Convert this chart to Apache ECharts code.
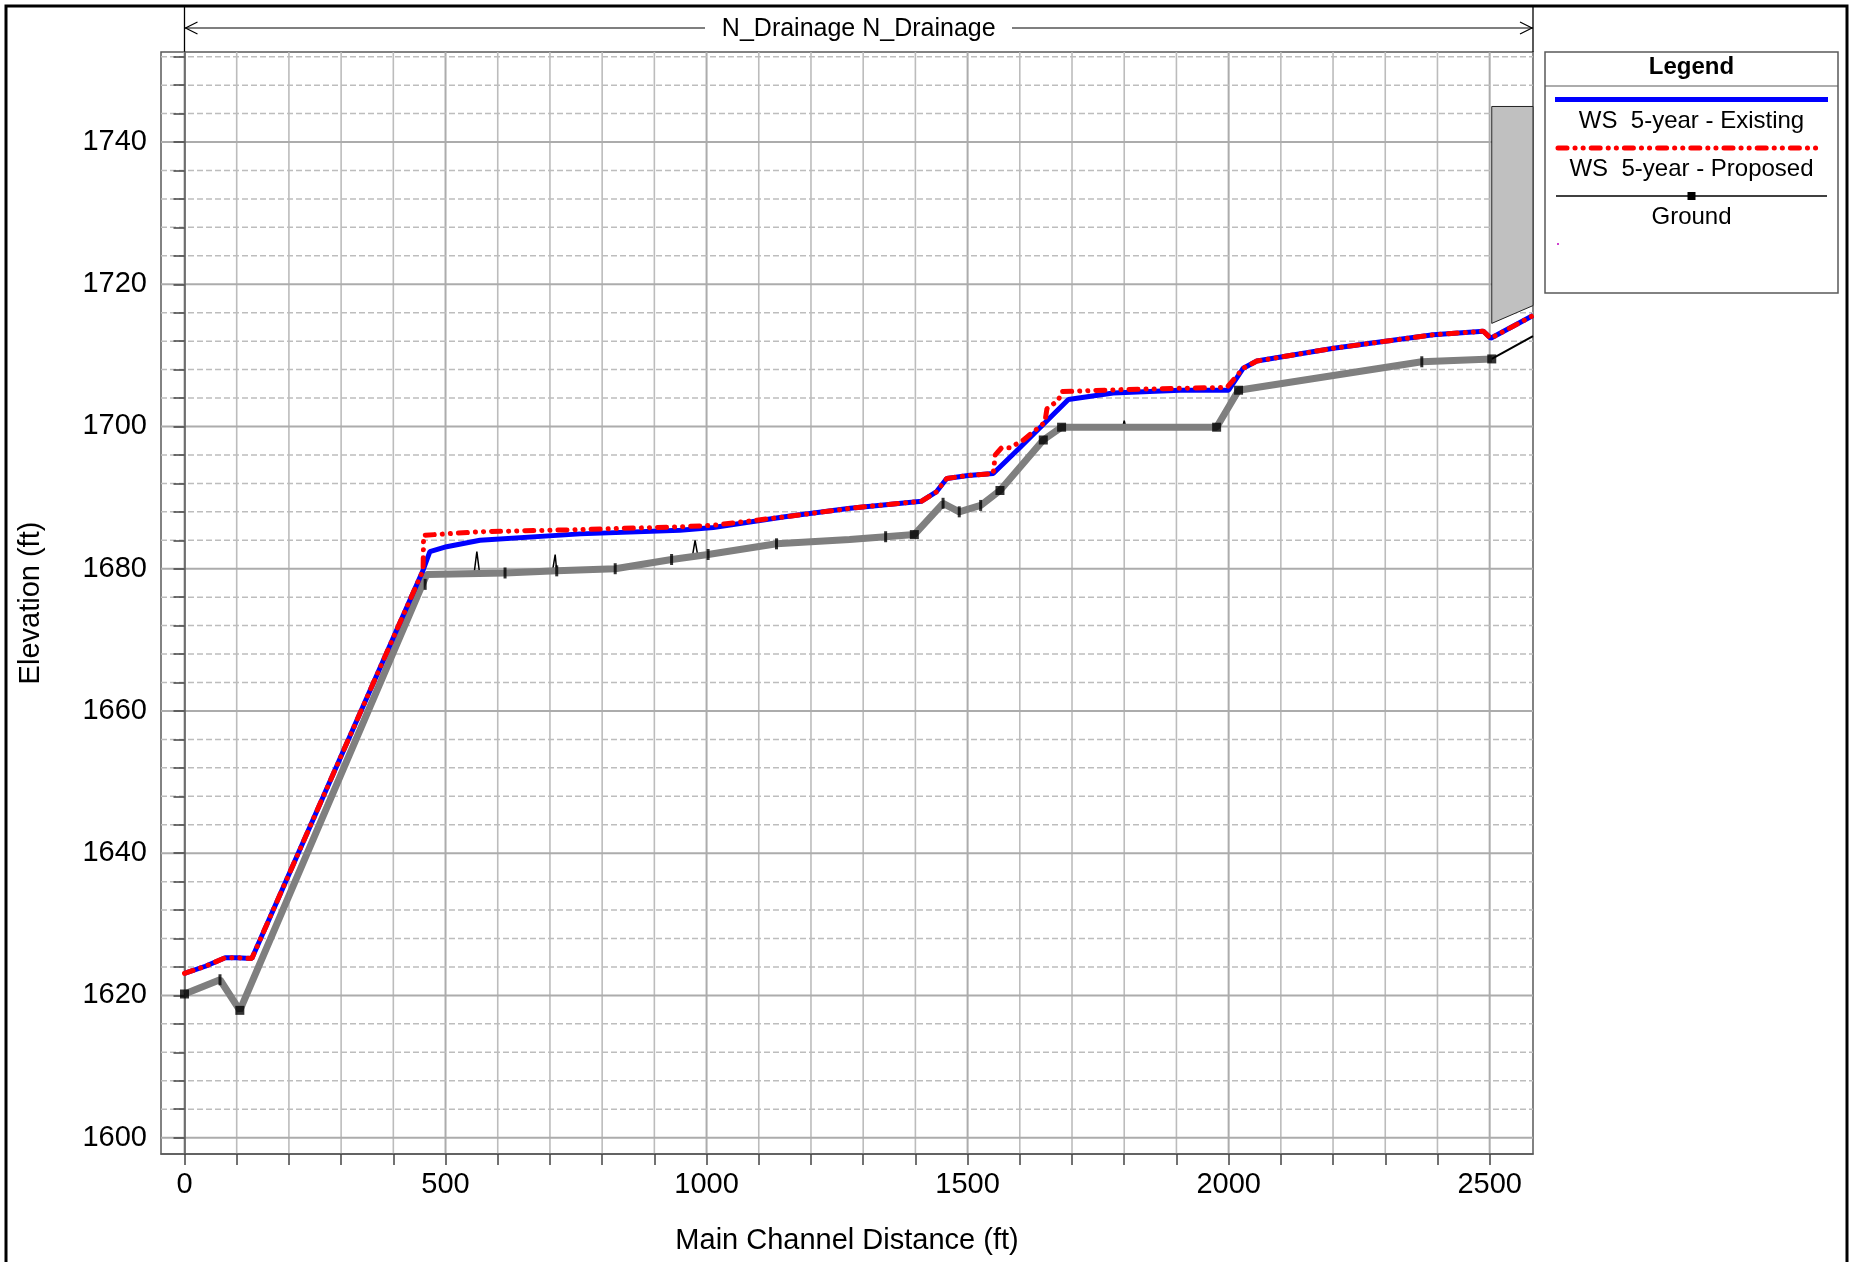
<!DOCTYPE html>
<html><head><meta charset="utf-8">
<script src="https://cdn.jsdelivr.net/npm/echarts@6/dist/echarts.min.js"></script>
<style>html,body{margin:0;padding:0;background:#fff}#c{width:1854px;height:1262px}</style>
</head><body><div id="c"></div>
<script>
// ---- data ----
const existingDist = [0, 40, 78, 100, 129, 457, 464, 470, 502, 566, 758, 949, 1013, 1150, 1275, 1412, 1440, 1460, 1501, 1549, 1597, 1693, 1779, 1907, 2000, 2028, 2054, 2201, 2392, 2488, 2502, 2583];
const existingElev = [1623.1, 1624.1, 1625.3, 1625.3, 1625.2, 1679.8, 1681.2, 1682.4, 1683.1, 1684.0, 1684.9, 1685.4, 1685.8, 1687.3, 1688.5, 1689.5, 1690.8, 1692.7, 1693.1, 1693.4, 1696.8, 1703.8, 1704.7, 1705.1, 1705.1, 1708.2, 1709.2, 1711.0, 1712.9, 1713.4, 1712.4, 1715.6];

const proposedDist = [0, 40, 78, 100, 129, 457, 458, 566, 760, 949, 1013, 1150, 1275, 1412, 1440, 1460, 1501, 1549, 1553, 1565, 1581, 1607, 1648, 1652, 1674, 1680, 1800, 1997, 2028, 2054, 2201, 2392, 2488, 2502, 2583];
const proposedElev = [1623.1, 1624.1, 1625.3, 1625.3, 1625.2, 1679.8, 1684.7, 1685.2, 1685.5, 1685.9, 1686.1, 1687.3, 1688.5, 1689.5, 1690.8, 1692.7, 1693.1, 1693.4, 1696.0, 1697.0, 1697.0, 1698.1, 1700.6, 1702.5, 1703.7, 1704.9, 1705.2, 1705.5, 1708.2, 1709.2, 1711.0, 1712.9, 1713.4, 1712.4, 1715.6];

const groundDist = [0, 68, 106, 464, 614, 713, 825, 933, 1003, 1134, 1274, 1343, 1398, 1453, 1484, 1525, 1562, 1645, 1680, 1977, 2019, 2370, 2504];
const groundElev = [1620.2, 1622.2, 1617.9, 1679.2, 1679.4, 1679.7, 1680.0, 1681.3, 1682.0, 1683.5, 1684.1, 1684.5, 1684.8, 1689.2, 1688.0, 1688.9, 1691.0, 1698.1, 1699.9, 1699.9, 1705.1, 1709.1, 1709.5];
const groundExtDist = [2504, 2583];
const groundExtElev = [1709.5, 1712.7];
const spikeDist = [555, 560, 565, 705, 710, 715, 973, 978, 983, 1797, 1800, 1803];
const spikeElev = [1679.5, 1682.4, 1679.5, 1679.7, 1682.0, 1679.7, 1681.8, 1684.0, 1681.9, 1699.9, 1700.8, 1699.9];

const squareDist = [0, 106, 1398, 1562, 1645, 1680, 1977, 2019, 2504];
const squareElev = [1620.2, 1617.9, 1684.8, 1691.0, 1698.1, 1699.9, 1699.9, 1705.1, 1709.5];
const tickMarkDist = [68, 461, 614, 713, 825, 933, 1003, 1134, 1343, 1453, 1484, 1525, 2370];
const tickMarkElev = [1622.2, 1677.8, 1679.4, 1679.7, 1680.0, 1681.3, 1682.0, 1683.5, 1684.5, 1689.2, 1688.0, 1688.9, 1709.1];

const deckDist = [2504, 2583, 2583, 2504];
const deckElev = [1745.0, 1745.0, 1717.0, 1714.5];

const xLabelVals = [0, 500, 1000, 1500, 2000, 2500];
const xTickVals = [0,100,200,300,400,500,600,700,800,900,1000,1100,1200,1300,1400,1500,1600,1700,1800,1900,2000,2100,2200,2300,2400,2500];
const yLabelVals = [1600, 1620, 1640, 1660, 1680, 1700, 1720, 1740];
const yTickVals = [1600,1604,1608,1612,1616,1620,1624,1628,1632,1636,1640,1644,1648,1652,1656,1660,1664,1668,1672,1676,1680,1684,1688,1692,1696,1700,1704,1708,1712,1716,1720,1724,1728,1732,1736,1740,1744,1748,1752];

const titleText = 'N_Drainage N_Drainage';
const legendNames = ['WS  5-year - Existing', 'WS  5-year - Proposed', 'Ground'];

// ---- build ----
const X_MIN = -45, X_MAX = 2583, Y_MIN = 1597.7, Y_MAX = 1752.66;
const FONT = '"Liberation Sans", Arial, sans-serif';
const zip = (a, b) => a.map((v, i) => [v, b[i]]);
const blackLine = zip(groundDist.concat(spikeDist), groundElev.concat(spikeElev)).sort((p, q) => p[0] - q[0]);

const chart = echarts.init(document.getElementById('c'), null, {renderer: 'canvas'});

const gridSeriesV = {
  type: 'custom', z: 0, silent: true, clip: true,
  data: xTickVals.map(v => [v, Y_MIN]),
  renderItem: (p, api) => {
    const v = api.value(0);
    const a = api.coord([v, Y_MIN]), b = api.coord([v, Y_MAX]);
    const major = xLabelVals.indexOf(v) >= 0;
    return {type: 'line', shape: {x1: a[0], y1: a[1], x2: b[0], y2: b[1]},
      style: {stroke: major ? '#acacac' : '#bcbcbc', lineWidth: major ? 2 : 1.6}};
  }
};
const gridSeriesH = {
  type: 'custom', z: 0, silent: true, clip: true,
  data: yTickVals.map(v => [X_MIN, v]),
  renderItem: (p, api) => {
    const v = api.value(1);
    const a = api.coord([X_MIN, v]), b = api.coord([X_MAX, v]);
    const major = yLabelVals.indexOf(v) >= 0;
    return {type: 'line', shape: {x1: a[0], y1: a[1], x2: b[0], y2: b[1]},
      style: major ? {stroke: '#acacac', lineWidth: 2} : {stroke: '#bdbdbd', lineWidth: 1.5, lineDash: [6, 3]}};
  }
};

const option = {
  animation: false,
  backgroundColor: '#fff',
  grid: {left: 161, right: 321, top: 52, bottom: 108, show: true, borderColor: '#5a5a5a', borderWidth: 1.5, backgroundColor: 'transparent'},
  xAxis: {
    type: 'value', min: X_MIN, max: X_MAX,
    splitLine: {show: false},
    axisLine: {show: true, lineStyle: {color: '#5a5a5a', width: 1.5}},
    axisTick: {show: true, customValues: xTickVals, length: 11, lineStyle: {color: '#444', width: 1.5}},
    axisLabel: {customValues: xLabelVals, fontSize: 29, fontFamily: FONT, color: '#000', margin: 16, formatter: v => String(v)},
    name: 'Main Channel Distance (ft)', nameLocation: 'middle', nameGap: 72,
    nameTextStyle: {fontSize: 29, fontFamily: FONT, color: '#000'}
  },
  yAxis: {
    type: 'value', min: Y_MIN, max: Y_MAX,
    splitLine: {show: false},
    axisLine: {show: true, lineStyle: {color: '#5a5a5a', width: 1.5}},
    axisTick: {show: true, customValues: yTickVals, length: 11, lineStyle: {color: '#444', width: 1.5}},
    axisLabel: {customValues: yLabelVals, fontSize: 29, fontFamily: FONT, color: '#000', margin: 14, formatter: v => String(v)},
    name: 'Elevation (ft)', nameLocation: 'middle', nameGap: 116, nameRotate: 90,
    nameTextStyle: {fontSize: 29, fontFamily: FONT, color: '#000'}
  },
  series: [
    gridSeriesV, gridSeriesH,
    {
      type: 'custom', z: 2, silent: true,
      data: [[deckDist[0], deckElev[0]]],
      renderItem: (p, api) => ({type: 'polygon',
        shape: {points: deckDist.map((d, i) => api.coord([d, deckElev[i]]))},
        style: {fill: '#c0c0c0', stroke: '#222', lineWidth: 1}})
    },
    {name: legendNames[2], type: 'line', z: 3, silent: true, showSymbol: false,
      data: blackLine, lineStyle: {color: '#000', width: 1.5}},
    {name: 'Ground ext', type: 'line', z: 3, silent: true, showSymbol: false,
      data: zip(groundExtDist, groundExtElev), lineStyle: {color: '#000', width: 2}},
    {name: 'Ground (band)', type: 'line', z: 4, silent: true, showSymbol: false,
      data: zip(groundDist, groundElev), lineStyle: {color: '#7f7f7f', width: 7}},
    {type: 'scatter', z: 5, silent: true, symbol: 'rect', symbolSize: [9, 9],
      data: zip(squareDist, squareElev), itemStyle: {color: '#000'}},
    {type: 'scatter', z: 5, silent: true, symbol: 'rect', symbolSize: [3, 11],
      data: zip(tickMarkDist, tickMarkElev), itemStyle: {color: '#000'}},
    {name: legendNames[0], type: 'line', z: 6, silent: true, showSymbol: false,
      data: zip(existingDist, existingElev), lineStyle: {color: '#0000ff', width: 5}},
    {name: legendNames[1], type: 'line', z: 7, silent: true, showSymbol: false,
      data: zip(proposedDist, proposedElev),
      lineStyle: {color: '#ff0000', width: 5, type: [9, 8, 0.1, 8, 0.1, 8], cap: 'round'}}
  ]
};
chart.setOption(option);

const px0 = chart.convertToPixel({xAxisIndex: 0}, 0);
const px1 = chart.convertToPixel({xAxisIndex: 0}, X_MAX);
const topY = 52, arrowY = 28, midX = (px0 + px1) / 2;
const lx = 1545, rx = 1838, lcx = (lx + rx) / 2;
chart.setOption({graphic: [
  {type: 'rect', shape: {x: 6, y: 6, width: 1841, height: 1270}, style: {fill: 'none', stroke: '#000', lineWidth: 3}, z: 100},
  {type: 'line', shape: {x1: px0, y1: 6, x2: px0, y2: topY}, style: {stroke: '#000', lineWidth: 1.3}},
  {type: 'line', shape: {x1: px1, y1: 6, x2: px1, y2: topY}, style: {stroke: '#000', lineWidth: 1.3}},
  {type: 'line', shape: {x1: px0, y1: arrowY, x2: 705, y2: arrowY}, style: {stroke: '#000', lineWidth: 1.2}},
  {type: 'line', shape: {x1: 1012, y1: arrowY, x2: px1, y2: arrowY}, style: {stroke: '#000', lineWidth: 1.2}},
  {type: 'polyline', shape: {points: [[px0 + 13, arrowY - 6], [px0 + 1, arrowY], [px0 + 13, arrowY + 6]]}, style: {stroke: '#000', lineWidth: 1.2, fill: 'none'}},
  {type: 'polyline', shape: {points: [[px1 - 13, arrowY - 6], [px1 - 1, arrowY], [px1 - 13, arrowY + 6]]}, style: {stroke: '#000', lineWidth: 1.2, fill: 'none'}},
  {type: 'text', x: midX, y: arrowY + 1, style: {text: titleText, fontSize: 25, fontFamily: FONT, fill: '#000', align: 'center', verticalAlign: 'middle'}},
  // legend box
  {type: 'rect', shape: {x: lx, y: 52, width: rx - lx, height: 241}, style: {fill: '#fff', stroke: '#5a5a5a', lineWidth: 1.5}},
  {type: 'line', shape: {x1: lx, y1: 86, x2: rx, y2: 86}, style: {stroke: '#5a5a5a', lineWidth: 1.2}},
  {type: 'text', x: lcx, y: 67, style: {text: 'Legend', fontSize: 24, fontWeight: 'bold', fontFamily: FONT, fill: '#000', align: 'center', verticalAlign: 'middle'}},
  {type: 'line', shape: {x1: 1555, y1: 99.5, x2: 1828, y2: 99.5}, style: {stroke: '#0000ff', lineWidth: 5}},
  {type: 'text', x: lcx, y: 121, style: {text: legendNames[0], fontSize: 24, fontFamily: FONT, fill: '#000', align: 'center', verticalAlign: 'middle'}},
  {type: 'line', shape: {x1: 1558, y1: 148, x2: 1822, y2: 148}, style: {stroke: '#ff0000', lineWidth: 5, lineDash: [9, 8, 0.1, 8, 0.1, 8], lineCap: 'round'}},
  {type: 'text', x: lcx, y: 169, style: {text: legendNames[1], fontSize: 24, fontFamily: FONT, fill: '#000', align: 'center', verticalAlign: 'middle'}},
  {type: 'line', shape: {x1: 1556, y1: 196, x2: 1827, y2: 196}, style: {stroke: '#000', lineWidth: 1.5}},
  {type: 'rect', shape: {x: lcx - 4, y: 192, width: 8, height: 8}, style: {fill: '#000'}},
  {type: 'text', x: lcx, y: 217, style: {text: legendNames[2], fontSize: 24, fontFamily: FONT, fill: '#000', align: 'center', verticalAlign: 'middle'}},
  {type: 'rect', shape: {x: 1557, y: 243, width: 2, height: 2}, style: {fill: '#d040d0'}}
]});
</script>
</body></html>
